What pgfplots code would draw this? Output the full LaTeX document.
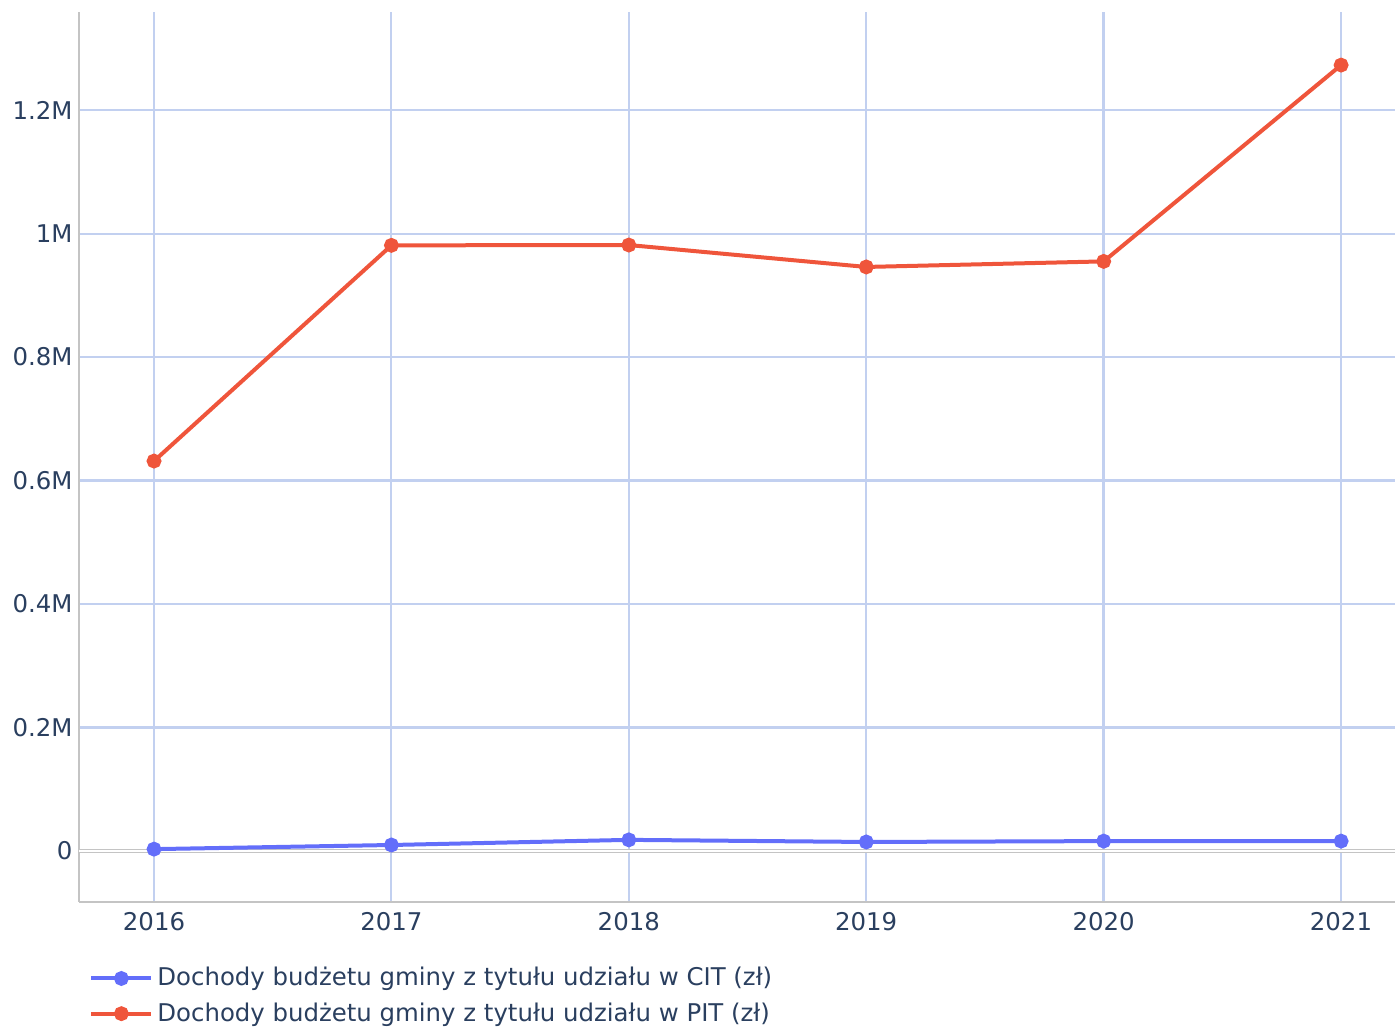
\documentclass[border=0pt]{standalone}
\usepackage{pgfplots}
\pgfplotsset{compat=1.18}
\usepackage{fontspec}
\setmainfont{DejaVu Sans}
\definecolor{citblue}{HTML}{636EFA}
\definecolor{pitred}{HTML}{EF553B}
\definecolor{gridc}{HTML}{C2D0F0}
\definecolor{txt}{HTML}{2A3F5F}
\definecolor{axc}{HTML}{C4C4C4}
\begin{document}
\fontsize{12.2pt}{14pt}\selectfont
\begin{tikzpicture}
\begin{axis}[
    name=ax,
    scale only axis,
    width=658pt, height=445pt,
    xmin=2015.684, xmax=2021.227,
    ymin=-82600, ymax=1359000,
    xtick={2016,...,2021},
    ytick={0,200000,400000,600000,800000,1000000,1200000},
    yticklabels={0,0.2M,0.4M,0.6M,0.8M,1M,1.2M},
    xticklabel style={/pgf/number format/1000 sep={}},
    /pgf/number format/assume math mode=true,
    scaled y ticks=false,
    tick style={draw=none},
    ticklabel style={text=txt, font=\fontsize{12.2pt}{14pt}\selectfont},
    xticklabel style={yshift=-1pt},
    yticklabel style={xshift=1pt},
    grid=major,
    major grid style={gridc, line width=1.1pt},
    axis line style={axc, line width=0.9pt},
    axis x line*=bottom,
    axis y line*=left,
    clip=false,
    legend style={
        at={(axis description cs:0,0)}, anchor=north west,
        xshift=5pt, yshift=-30.5pt,
        draw=none, fill=none,
        font=\fontsize{12.2pt}{14pt}\selectfont\color{txt},
        row sep=2.5pt, inner sep=0pt,
        /tikz/every even column/.append style={column sep=5pt}
    },
    legend cell align=left,
    legend image code/.code={
        \draw[#1, mark repeat=2, mark phase=2] plot coordinates {(0pt,0pt) (15pt,0pt) (30pt,0pt)};
    },
]
\draw[axc, line width=0.6pt, double=white, double distance=1.2pt] (axis cs:2015.684,0) -- (axis cs:2021.227,0);

\addplot[citblue, line width=2pt, mark=*, mark size=2.7pt, mark options={solid}] coordinates {
    (2016,3000) (2017,9700) (2018,18000) (2019,14600) (2020,16000) (2021,16000)
};
\addplot[pitred, line width=2pt, mark=*, mark size=2.7pt, mark options={solid}] coordinates {
    (2016,631600) (2017,981000) (2018,981500) (2019,946000) (2020,955000) (2021,1273000)
};
\legend{Dochody budżetu gminy z tytułu udziału w CIT (zł), Dochody budżetu gminy z tytułu udziału w PIT (zł)}
\end{axis}
\pgfresetboundingbox
\path[use as bounding box] ([shift={(-39.5pt,-63.5pt)}]ax.south west) rectangle ([shift={(0pt,6pt)}]ax.north east);
\end{tikzpicture}
\end{document}
